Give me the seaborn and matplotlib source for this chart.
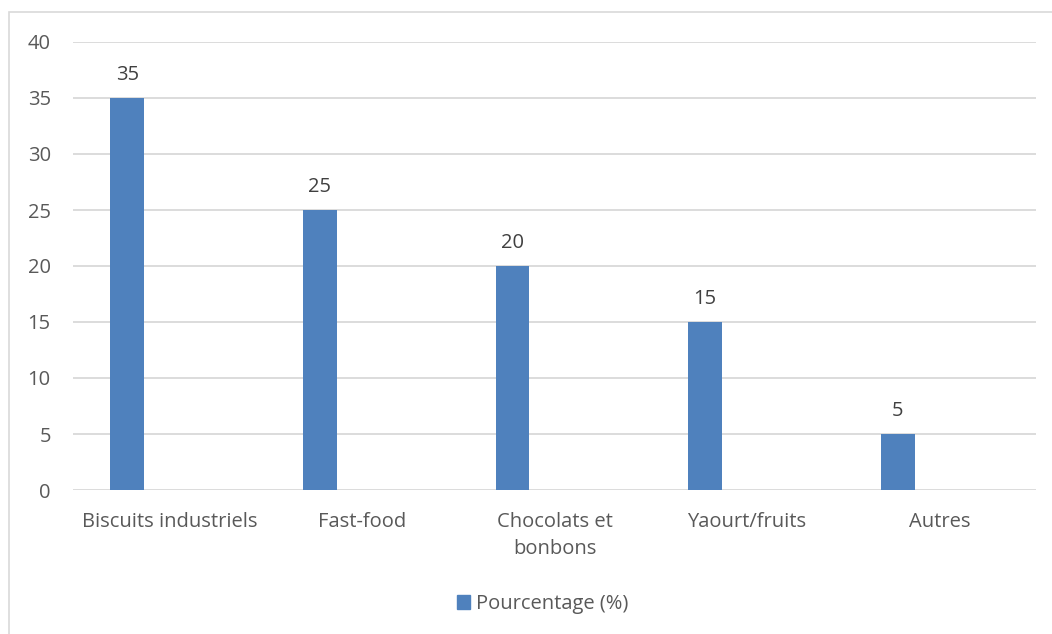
import matplotlib
matplotlib.use("Agg")
import matplotlib.pyplot as plt
import seaborn as sns
import pandas as pd
import numpy as np
from matplotlib.patches import Rectangle

categories = ["Biscuits industriels", "Fast-food", "Chocolats et\nbonbons", "Yaourt/fruits", "Autres"]
values = [35, 25, 20, 15, 5]
series_name = "Pourcentage (%)"
yticks = [0, 5, 10, 15, 20, 25, 30, 35, 40]

sns.set_theme(style="white")
plt.rcParams['font.family'] = ['Open Sans', 'DejaVu Sans']

FS = 14.5
W, H = 1052, 634
fig = plt.figure(figsize=(W / 100, H / 100), dpi=100)
ax = fig.add_axes([73 / W, 1 - 490 / H, (1036 - 73) / W, (490 - 42) / H])

offset = 0.218
pos = np.arange(len(categories)) - offset
df = pd.DataFrame({"pos": pos, "val": values, "serie": series_name})

sns.barplot(data=df, x="pos", y="val", hue="serie", native_scale=True,
            palette=["#4f81bd"], saturation=1, width=0.175, ax=ax, zorder=3, linewidth=0)

for p, v in zip(pos, values):
    ax.text(p, v + 1.2, str(v), ha="center", va="bottom", fontsize=FS, color="#404040")

ax.set_xlim(-0.5, len(categories) - 0.5)
ax.set_ylim(0, 40)
ax.set_yticks(yticks)
ax.set_yticklabels([str(t) for t in yticks], fontsize=FS, color="#595959")
ax.set_xticks(np.arange(len(categories)))
ax.set_xticklabels(categories, fontsize=FS, color="#595959", linespacing=1.45)
ax.tick_params(axis="x", length=0, pad=16)
ax.tick_params(axis="y", length=0, pad=16)
ax.grid(axis="y", color="#d9d9d9", linewidth=1.3, zorder=0)
for s in ax.spines.values():
    s.set_visible(False)
ax.set_xlabel("")
ax.set_ylabel("")

ax.get_legend().remove()
handles = [Rectangle((0, 0), 1, 1, color="#4f81bd")]
fig.legend(handles, [series_name], loc="center", bbox_to_anchor=(543 / W, 1 - 604 / H),
           frameon=False, fontsize=FS, handlelength=0.65, handleheight=0.65,
           handletextpad=0.3, labelcolor="#595959")

fig.patches.append(Rectangle((9 / W, -0.05), 1.2, 1 - 12 / H + 0.05, transform=fig.transFigure,
                             fill=False, edgecolor="#d9d9d9", linewidth=1.2, zorder=0))

fig.savefig("out.png", dpi=100)
